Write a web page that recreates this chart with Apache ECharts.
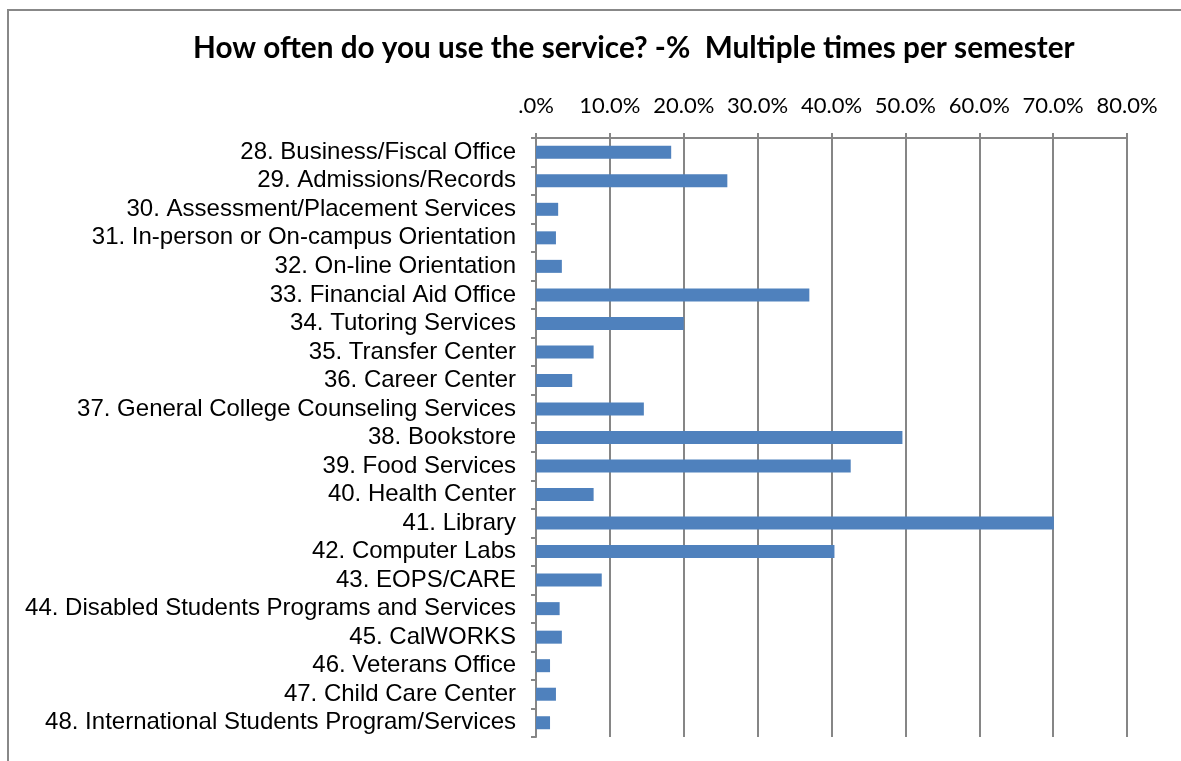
<!DOCTYPE html>
<html>
<head>
<meta charset="utf-8">
<script src="https://cdn.jsdelivr.net/npm/echarts@6/dist/echarts.min.js"></script>
<style>
  html, body { margin: 0; padding: 0; background: #fff; }
  #chart { width: 1181px; height: 761px; }
</style>
</head>
<body>
<div id="chart"></div>
<script>
// services (top to bottom)
const services = [
  '28. Business/Fiscal Office',
  '29. Admissions/Records',
  '30. Assessment/Placement Services',
  '31. In-person or On-campus Orientation',
  '32. On-line Orientation',
  '33. Financial Aid Office',
  '34. Tutoring Services',
  '35. Transfer Center',
  '36. Career Center',
  '37. General College Counseling Services',
  '38. Bookstore',
  '39. Food Services',
  '40. Health Center',
  '41. Library',
  '42. Computer Labs',
  '43. EOPS/CARE',
  '44. Disabled Students Programs and Services',
  '45. CalWORKS',
  '46. Veterans Office',
  '47. Child Care Center',
  '48. International Students Program/Services'
]

// % multiple times per semester
const multiplePerSemester = [
  18.3, 25.9, 3.0, 2.7, 3.5, 37.0, 20.0, 7.8, 4.9, 14.6,
  49.6, 42.6, 7.8, 70.1, 40.4, 8.9, 3.2, 3.5, 1.9, 2.7, 1.9
]

const chart = echarts.init(document.getElementById('chart'))

const option = {
  backgroundColor: '#fff',
  animation: false,
  title: {
    text: 'How often do you use the service? -%  Multiple times per semester',
    left: 188,
    top: 28,
    textStyle: {
      fontFamily: 'Lato',
      fontWeight: 'bold',
      fontSize: 29.7,
      color: '#000'
    }
  },
  graphic: [
    {
      type: 'rect',
      shape: { x: 8, y: 10, width: 1200, height: 800 },
      style: { fill: 'none', stroke: '#888', lineWidth: 2 },
      silent: true
    }
  ],
  grid: {
    left: 536,
    right: 54,
    top: 138,
    bottom: 24
  },
  xAxis: {
    type: 'value',
    position: 'top',
    min: 0,
    max: 80,
    interval: 10,
    axisLine: { show: true, lineStyle: { color: '#868686', width: 2 } },
    axisTick: { show: true, length: 5, lineStyle: { color: '#868686', width: 2 } },
    axisLabel: {
      margin: 21,
      color: '#000',
      fontFamily: 'Lato',
      fontSize: 22,
      formatter: v => v === 0 ? '.0%' : v.toFixed(1) + '%'
    },
    splitLine: { show: true, lineStyle: { color: '#868686', width: 2 } }
  },
  yAxis: {
    type: 'category',
    data: services,
    inverse: true,
    axisLine: { show: true, lineStyle: { color: '#868686', width: 2 } },
    axisTick: { show: true, length: 5, lineStyle: { color: '#868686', width: 2 } },
    axisLabel: {
      interval: 0,
      hideOverlap: false,
      margin: 20,
      color: '#000',
      fontFamily: 'Liberation Sans',
      fontSize: 24
    }
  },
  series: [
    {
      name: 'Multiple times per semester',
      type: 'bar',
      data: multiplePerSemester,
      barWidth: 13,
      itemStyle: { color: '#4F81BD' }
    }
  ]
}

chart.setOption(option)
</script>
</body>
</html>
